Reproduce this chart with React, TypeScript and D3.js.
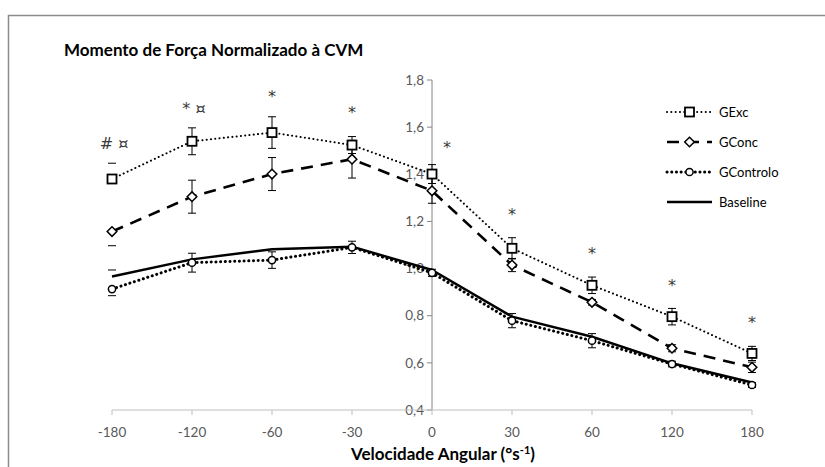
import React from "react";
import * as d3 from "d3";

const categories = ["-180", "-120", "-60", "-30", "0", "30", "60", "120", "180"];

const gExc = [1.38, 1.54, 1.577, 1.524, 1.401, 1.086, 0.929, 0.796, 0.64];
const gExcErr = [0.067, 0.057, 0.067, 0.036, 0.04, 0.045, 0.035, 0.035, 0.03];

const gConc = [1.157, 1.305, 1.401, 1.464, 1.33, 1.015, 0.857, 0.662, 0.581];
const gConcErr = [0.06, 0.07, 0.07, 0.08, 0.053, 0.028, 0.012, 0.015, 0.022];

const gControlo = [0.913, 1.025, 1.036, 1.09, 0.982, 0.779, 0.694, 0.595, 0.506];
const gControloErr = [0.028, 0.04, 0.035, 0.026, 0.015, 0.03, 0.03, 0.012, 0.01];

const baseline = [0.966, 1.039, 1.082, 1.093, 0.994, 0.796, 0.711, 0.598, 0.517];
const baselineErr = [0.028, 0, 0, 0, 0, 0, 0, 0, 0];

// At -180 only one end of each error bar is shown (+1 upper, -1 lower)
const firstPointCapSide = [1, -1, -1, 1];

const yTicks = [0.4, 0.6, 0.8, 1.0, 1.2, 1.4, 1.6, 1.8];

const annotations = ["# ¤", "* ¤", "*", "*", "*", "*", "*", "*", "*"];
const annotationLevels = [1.533, 1.681, 1.745, 1.677, 1.529, 1.244, 1.079, 0.947, 0.786];

const FONT = "Lato, 'Open Sans', sans-serif";
const MARK_FONT = "'DejaVu Sans', sans-serif";

type Marker = "square" | "diamond" | "circle" | "none";

interface Series {
  name: string;
  values: number[];
  errors: number[];
  dash: string;
  width: number;
  cap: "round" | "butt";
  marker: Marker;
}

const series: Series[] = [
  { name: "GExc", values: gExc, errors: gExcErr, dash: "0.1 4.2", width: 2, cap: "round", marker: "square" },
  { name: "GConc", values: gConc, errors: gConcErr, dash: "12 8", width: 2.6, cap: "butt", marker: "diamond" },
  { name: "GControlo", values: gControlo, errors: gControloErr, dash: "0.1 4.6", width: 3, cap: "round", marker: "circle" },
  { name: "Baseline", values: baseline, errors: baselineErr, dash: "", width: 2.5, cap: "butt", marker: "none" },
];

function MarkerShape({ kind, x, y }: { kind: Marker; x: number; y: number }) {
  if (kind === "square") {
    return <rect x={x - 4.5} y={y - 4.5} width={9} height={9} fill="#fff" stroke="#000" strokeWidth={1.8} />;
  }
  if (kind === "diamond") {
    return (
      <path
        d={`M${x},${y - 4.8}L${x + 4.8},${y}L${x},${y + 4.8}L${x - 4.8},${y}Z`}
        fill="#fff"
        stroke="#000"
        strokeWidth={1.5}
      />
    );
  }
  if (kind === "circle") {
    return <circle cx={x} cy={y} r={3.6} fill="#fff" stroke="#000" strokeWidth={1.5} />;
  }
  return null;
}

export default function App() {
  const width = 825;
  const height = 467;

  const x = d3.scalePoint<string>().domain(categories).range([112, 752]);
  const y = d3.scaleLinear().domain([0.4, 1.8]).range([410, 80]);
  const axisX = x("0") as number;

  const line = d3
    .line<number>()
    .x((_, i) => x(categories[i]) as number)
    .y((v) => y(v));

  const axisColor = "#868686";
  const labelColor = "#595959";

  return (
    <svg
      width={width}
      height={height}
      style={{ position: "absolute", left: 0, top: 0, background: "#fff" }}
      fontFamily={FONT}
    >
      <rect x={0} y={0} width={width} height={height} fill="#fff" />
      {/* chart frame */}
      <path d={`M8.5,${height}V15.5H${width}`} fill="none" stroke="#8c8c8c" strokeWidth={1.5} />

      <text x={64} y={56} fontSize={17} fontWeight="bold" fill="#000">
        Momento de Força Normalizado à CVM
      </text>

      {/* y axis */}
      <line x1={axisX} x2={axisX} y1={y(1.8)} y2={y(0.4)} stroke={axisColor} strokeWidth={1} />
      {yTicks.map((t) => (
        <g key={t}>
          <line x1={axisX - 5} x2={axisX} y1={y(t)} y2={y(t)} stroke={axisColor} strokeWidth={1} />
          <text
            x={axisX - 8}
            y={y(t)}
            dy="0.35em"
            textAnchor="end"
            fontSize={13.5}
            fill={labelColor}
          >
            {d3.format(".1f")(t).replace(".", ",")}
          </text>
        </g>
      ))}

      {/* x axis */}
      <line x1={112} x2={752} y1={y(0.4)} y2={y(0.4)} stroke="#bfbfbf" strokeWidth={1.2} />
      {categories.map((c) => (
        <g key={c}>
          <line
            x1={x(c) as number}
            x2={x(c) as number}
            y1={y(0.4)}
            y2={y(0.4) + 5}
            stroke="#bfbfbf"
            strokeWidth={1}
          />
          <text x={x(c) as number} y={437} textAnchor="middle" fontSize={13.5} fill={labelColor}>
            {c}
          </text>
        </g>
      ))}
      <text x={443} y={460} textAnchor="middle" fontSize={17} fontWeight="bold" fill="#000">
        Velocidade Angular (°s
        <tspan dy={-6} fontSize={11}>
          -1
        </tspan>
        <tspan dy={6}>)</tspan>
      </text>

      {/* error bars */}
      {series.map((s, si) =>
        s.values.map((v, i) => {
          const cx = x(categories[i]) as number;
          const e = s.errors[i];
          if (!e) return null;
          if (i === 0) {
            const cy = y(v + firstPointCapSide[si] * e);
            return (
              <line
                key={`${s.name}-e-${i}`}
                x1={cx - 4}
                x2={cx + 4}
                y1={cy}
                y2={cy}
                stroke="#000"
                strokeWidth={1}
              />
            );
          }
          return (
            <g key={`${s.name}-e-${i}`} stroke="#000" strokeWidth={1}>
              <line x1={cx} x2={cx} y1={y(v + e)} y2={y(v - e)} />
              <line x1={cx - 4} x2={cx + 4} y1={y(v + e)} y2={y(v + e)} />
              <line x1={cx - 4} x2={cx + 4} y1={y(v - e)} y2={y(v - e)} />
            </g>
          );
        })
      )}

      {/* series lines */}
      {series.map((s) => (
        <path
          key={s.name}
          d={line(s.values) ?? ""}
          fill="none"
          stroke="#000"
          strokeWidth={s.width}
          strokeDasharray={s.dash || undefined}
          strokeLinecap={s.cap}
          strokeLinejoin="round"
        />
      ))}

      {/* markers */}
      {series.map((s) =>
        s.values.map((v, i) => (
          <MarkerShape key={`${s.name}-m-${i}`} kind={s.marker} x={x(categories[i]) as number} y={y(v)} />
        ))
      )}

      {/* significance annotations */}
      {annotations.map((a, i) => (
        <text
          key={`a-${i}`}
          x={(x(categories[i]) as number) + (categories[i] === "0" ? 15 : 0) + (a.length > 1 ? 2 : 0)}
          y={y(annotationLevels[i])}
          dy={a.includes("¤") ? "0.36em" : "0.59em"}
          textAnchor="middle"
          fontSize={16}
          fontFamily={MARK_FONT}
          fill="#3a3a3a"
        >
          {a}
        </text>
      ))}

      {/* legend */}
      {series.map((s, i) => {
        const ly = 112 + i * 30;
        return (
          <g key={`lg-${s.name}`}>
            <line
              x1={667}
              x2={712}
              y1={ly}
              y2={ly}
              stroke="#000"
              strokeWidth={s.width}
              strokeDasharray={s.dash || undefined}
              strokeLinecap={s.cap}
            />
            <MarkerShape kind={s.marker} x={689.5} y={ly} />
            <text x={719} y={ly} dy="0.35em" fontSize={13} fill="#000">
              {s.name}
            </text>
          </g>
        );
      })}
    </svg>
  );
}
